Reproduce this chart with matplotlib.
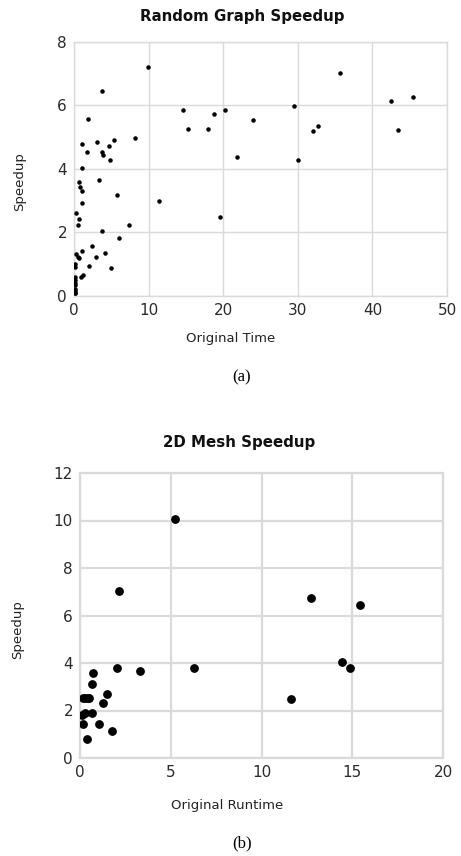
import matplotlib
matplotlib.use("Agg")
import matplotlib.pyplot as plt

# (a) random graph: original time vs speedup
rg_time = [9.93, 3.8, 1.92, 1.03, 3.04, 1.79, 3.8, 3.89, 4.74, 5.32, 4.83, 8.18,
           1.03, 0.63, 0.8, 1.03, 3.31, 5.77, 1.03, 0.31, 0.72, 0.49, 3.71, 7.33,
           6.04, 11.36, 19.59, 2.41, 1.03, 0.31, 0.49, 0.63, 3.0, 4.2, 2.06, 5.0,
           1.25, 0.94, 0.09, 0.09, 0.08, 0.12, 0.09, 0.1, 0.08, 0.12, 0.1, 0.07,
           14.58, 15.34, 17.98, 18.78, 20.21, 24.02, 21.91, 29.43, 30.01, 32.07,
           32.74, 35.64, 42.44, 43.47, 45.48]
rg_speedup = [7.22, 6.47, 5.57, 4.78, 4.84, 4.52, 4.52, 4.43, 4.72, 4.92, 4.28, 4.98,
              4.02, 3.58, 3.42, 3.30, 3.66, 3.19, 2.92, 2.60, 2.44, 2.23, 2.05, 2.25,
              1.83, 2.98, 2.49, 1.59, 1.42, 1.32, 1.23, 1.21, 1.24, 1.36, 0.93, 0.87,
              0.67, 0.59, 1.0, 0.91, 0.59, 0.5, 0.42, 0.34, 0.23, 0.17, 0.11, 0.08,
              5.86, 5.27, 5.27, 5.72, 5.86, 5.53, 4.37, 5.99, 4.28, 5.19,
              5.34, 7.03, 6.14, 5.24, 6.26]

# (b) 2D mesh: original runtime vs speedup
mesh_time = [0.12, 0.3, 0.15, 0.37, 0.66, 0.15, 0.3, 0.42, 0.52, 0.64, 0.72, 1.07,
             1.27, 1.49, 1.77, 2.06, 2.14, 3.33, 5.25, 6.3, 11.6, 12.74, 14.42,
             14.86, 15.43]
mesh_speedup = [1.8, 1.9, 1.44, 0.8, 1.88, 2.53, 2.53, 2.53, 2.53, 3.13, 3.59, 1.44,
                2.31, 2.69, 1.12, 3.78, 7.03, 3.66, 10.06, 3.78, 2.48, 6.72, 4.05,
                3.78, 6.44]

W, H = 461, 856
fig = plt.figure(figsize=(W / 100, H / 100), dpi=100)
sans = ["DejaVu Sans"]
serif = ["Liberation Serif", "DejaVu Serif"]
grid_c = "#dadada"


def box(l, t, r, b):
    return [l / W, 1 - b / H, (r - l) / W, (b - t) / H]


def style(ax, gw):
    ax.grid(True, color=grid_c, linewidth=gw)
    ax.set_axisbelow(True)
    for s in ax.spines.values():
        s.set_color(grid_c)
        s.set_linewidth(gw)
    ax.tick_params(length=0, labelsize=11, labelcolor="#2a2a2a", pad=5)
    for lab in ax.get_xticklabels() + ax.get_yticklabels():
        lab.set_family(sans)


ax1 = fig.add_axes(box(74, 42, 447, 296))
ax1.scatter(rg_time, rg_speedup, s=5, color="black", zorder=3)
ax1.set_xlim(0, 50)
ax1.set_ylim(0, 8)
ax1.set_xticks(range(0, 51, 10))
ax1.set_yticks(range(0, 9, 2))
style(ax1, 1.0)

ax2 = fig.add_axes(box(80, 473, 443, 758))
ax2.scatter(mesh_time, mesh_speedup, s=28, color="black", zorder=3)
ax2.set_xlim(0, 20)
ax2.set_ylim(0, 12)
ax2.set_xticks(range(0, 21, 5))
ax2.set_yticks(range(0, 13, 2))
style(ax2, 1.6)

fig.text(242 / W, 1 - 16 / H, "Random Graph Speedup", ha="center", va="center",
         family=sans, fontsize=10.8, fontweight="bold", color="#111111")
fig.text(231 / W, 1 - 339 / H, "Original Time", ha="center", va="center",
         family=sans, fontsize=9.5, color="#222222")
fig.text(20 / W, 1 - 182 / H, "Speedup", ha="center", va="center", rotation=90,
         family=sans, fontsize=9.5, color="#222222")
fig.text(242 / W, 1 - 377 / H, "(a)", ha="center", va="center",
         family=serif, fontsize=12)

fig.text(239 / W, 1 - 442 / H, "2D Mesh Speedup", ha="center", va="center",
         family=sans, fontsize=10.8, fontweight="bold", color="#111111")
fig.text(227 / W, 1 - 805 / H, "Original Runtime", ha="center", va="center",
         family=sans, fontsize=9.5, color="#222222")
fig.text(18 / W, 1 - 630 / H, "Speedup", ha="center", va="center", rotation=90,
         family=sans, fontsize=9.5, color="#222222")
fig.text(242 / W, 1 - 843 / H, "(b)", ha="center", va="center",
         family=serif, fontsize=12)

fig.savefig("out.png", dpi=100)
